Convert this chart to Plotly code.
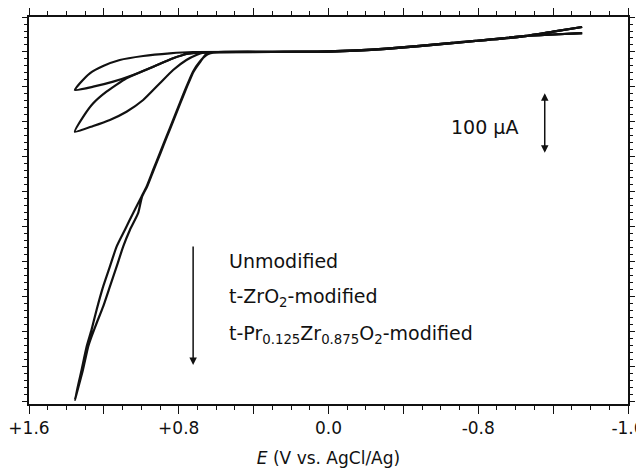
import plotly.graph_objects as go

# ---- data (E in V vs AgCl/Ag, current in µA) ----
# shared anodic-side branches (right part of the scans)
right_out_E = [-1.355, -1.2, -1.056, -0.661, -0.309, -0.005, 0.3, 0.6]
right_out_I = [27.1, 25.0, 23.0, 12.5, 4.5, 0.5, 0.0, -0.3]
right_back_E = [0.3, 0.0, -0.309, -0.661, -1.019, -1.2, -1.355]
right_back_I = [0.3, 1.0, 5.0, 13.0, 21.4, 29.0, 35.7]

# Unmodified electrode: small loop
unmod_loop_E = [0.759, 0.830, 0.937, 1.044, 1.150, 1.257, 1.355,
                1.328, 1.275, 1.204, 1.115, 0.990, 0.848, 0.724]
unmod_loop_I = [-2.9, -9.0, -21.0, -32.9, -42.4, -49.6, -54.3,
                -44.7, -30.4, -20.0, -11.4, -5.7, -1.9, 0.0]

# t-ZrO2-modified electrode: medium loop
zro2_loop_E = [0.670, 0.706, 0.759, 0.830, 0.901, 0.990, 1.079, 1.168, 1.257, 1.355,
               1.310, 1.257, 1.186, 1.079, 0.955, 0.830, 0.759, 0.700]
zro2_loop_I = [-1.0, -4.3, -11.4, -25.7, -44.7, -68.6, -85.3, -97.1, -105.7, -113.9,
               -92.4, -73.3, -56.7, -37.6, -23.3, -9.0, -2.9, -0.5]

# t-Pr0.125Zr0.875O2-modified electrode: large curve
pr_loop_E = [0.652, 0.688, 0.724, 0.759, 0.795, 0.830, 0.866, 0.901, 0.937, 0.972, 0.999,
             1.044, 1.088, 1.132, 1.168, 1.204, 1.239, 1.266, 1.292, 1.319, 1.355,
             1.312, 1.284, 1.266, 1.239, 1.204, 1.168, 1.132, 1.097, 1.061, 1.017,
             0.996, 0.969, 0.934, 0.898, 0.863, 0.827, 0.792, 0.756, 0.721, 0.685, 0.649]
pr_loop_I = [-4.3, -13.9, -28.1, -49.6, -73.3, -97.1, -121.0, -144.7, -168.6, -192.4, -206.7,
             -230.4, -254.3, -278.1, -306.7, -335.3, -368.6, -397.1, -421.0, -454.3, -497.1,
             -454.3, -421.0, -406.7, -387.6, -363.9, -335.3, -306.7, -278.1, -254.3, -230.4,
             -206.7, -192.4, -168.6, -144.7, -121.0, -97.1, -73.3, -49.6, -28.1, -13.9, -2.0]

x_labelled_ticks = [1.6, 0.8, 0.0, -0.8, -1.6]
x_labels = ["+1.6", "+0.8", "0.0", "-0.8", "-1.6"]
x_extra_major_ticks = [1.2, 0.4, -0.4, -1.2]

series = [("Unmodified", unmod_loop_E, unmod_loop_I),
          ("t-ZrO2-modified", zro2_loop_E, zro2_loop_I),
          ("t-Pr0.125Zr0.875O2-modified", pr_loop_E, pr_loop_I)]

fig = go.Figure()
for name, e, i in series:
    xs = right_out_E + e + right_back_E
    ys = right_out_I + i + right_back_I
    fig.add_trace(go.Scatter(x=xs, y=ys, mode="lines", name=name,
                             line=dict(color="#111111", width=2.2, shape="spline", smoothing=0.5),
                             showlegend=False))

FONT = "DejaVu Sans, Verdana, sans-serif"
INK = "#111111"

# the page body adds an 8 px offset; size and margins compensate for it
fig.update_layout(
    width=636, height=461,
    margin=dict(l=21, r=16, t=9, b=65),
    paper_bgcolor="white", plot_bgcolor="white",
    font=dict(family=FONT, size=18, color=INK),
    xaxis=dict(range=[1.6, -1.6], tickmode="array", tickvals=x_labelled_ticks, ticktext=x_labels,
               tickfont=dict(size=17), automargin=False, ticklabeloverflow="allow",
               ticks="outside", ticklen=8, tickwidth=1.3, tickcolor=INK,
               minor=dict(dtick=0.1, tick0=0, ticks="outside", ticklen=4, tickwidth=1, tickcolor=INK),
               showline=True, linecolor=INK, linewidth=1.5, mirror="ticks",
               showgrid=False, zeroline=False,
               title=dict(text="<i>E</i> (V vs. AgCl/Ag)", standoff=15, font=dict(size=17))),
    xaxis2=dict(range=[1.6, -1.6], overlaying="x", side="bottom", anchor="y",
                tickmode="array", tickvals=x_extra_major_ticks, showticklabels=False, automargin=False,
                ticks="outside", ticklen=8, tickwidth=1.3, tickcolor=INK,
                showline=True, linecolor=INK, linewidth=1.5, mirror="ticks",
                showgrid=False, zeroline=False),
    yaxis=dict(range=[-503, 50], tick0=0, dtick=50, showticklabels=False, automargin=False,
               ticks="outside", ticklen=5, tickwidth=1.3, tickcolor=INK,
               minor=dict(dtick=10, ticks="outside", ticklen=3, tickwidth=1, tickcolor=INK),
               showline=True, linecolor=INK, linewidth=1.5, mirror="ticks",
               showgrid=False, zeroline=False),
)
# invisible trace to activate the overlay axis carrying the unlabelled major ticks
fig.add_trace(go.Scatter(x=[0.0], y=[0.0], xaxis="x2", mode="markers", marker=dict(opacity=0),
                         hoverinfo="skip", showlegend=False))

# scale-bar: 100 µA
fig.add_annotation(xref="paper", yref="paper", x=0.761, y=0.716, text="100 µA", showarrow=False,
                   font=dict(size=19), xanchor="center", yanchor="middle")
fig.add_annotation(xref="paper", yref="paper", x=0.861, y=0.649, ax=0, ay=-61, axref="pixel", ayref="pixel",
                   text="", showarrow=True, arrowhead=2, startarrowhead=2, arrowside="end+start",
                   arrowsize=1, arrowwidth=1.5, arrowcolor=INK)

# legend arrow and labels
fig.add_annotation(xref="paper", yref="paper", x=0.274, y=0.101, ax=0, ay=-120, axref="pixel", ayref="pixel",
                   text="", showarrow=True, arrowhead=2, arrowsize=1, arrowwidth=1.5, arrowcolor=INK)
labels = ["Unmodified", "t-ZrO<sub>2</sub>-modified",
          "t-Pr<sub>0.125</sub>Zr<sub>0.875</sub>O<sub>2</sub>-modified"]
label_y = [0.369, 0.276, 0.18]
for txt, yy in zip(labels, label_y):
    fig.add_annotation(xref="paper", yref="paper", x=0.331, y=yy, text=txt, showarrow=False,
                       xanchor="left", yanchor="middle", font=dict(size=19))

fig.write_html("out.html")
